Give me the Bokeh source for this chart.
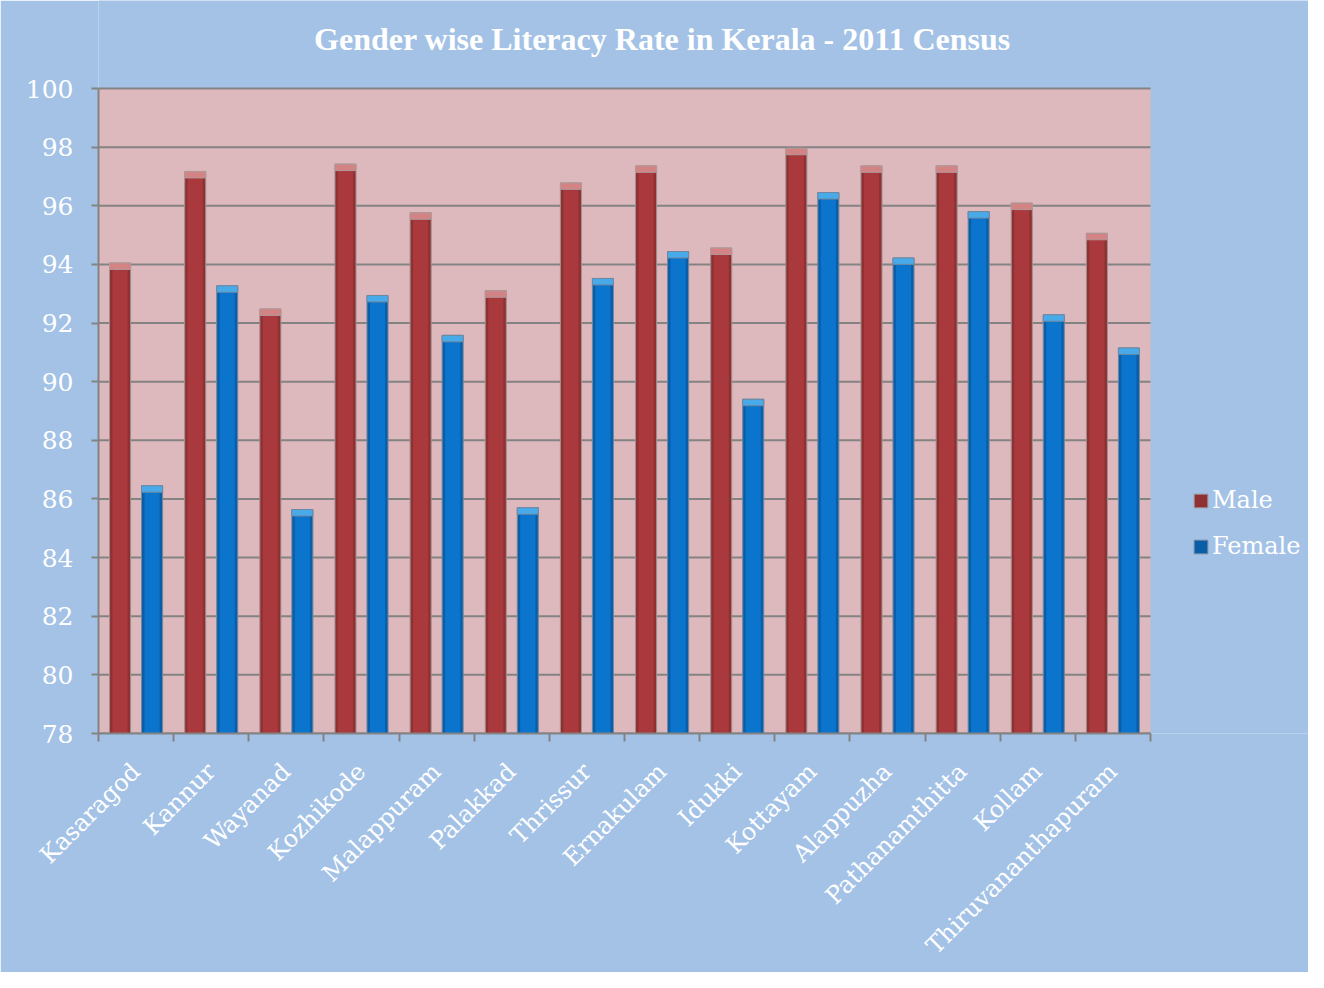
import numpy as np
from math import pi
from bokeh.plotting import figure
from bokeh.models import (ColumnDataSource, Range1d, FixedTicker, Legend, LegendItem,
                          BoxAnnotation, Label)
from bokeh.transform import dodge
from bokeh.embed import file_html
from bokeh.resources import INLINE

districts = ["Kasaragod", "Kannur", "Wayanad", "Kozhikode", "Malappuram", "Palakkad",
             "Thrissur", "Ernakulam", "Idukki", "Kottayam", "Alappuzha",
             "Pathanamthitta", "Kollam", "Thiruvananthapuram"]
male = [94.05, 97.17, 92.48, 97.42, 95.76, 93.10, 96.78, 97.36, 94.56, 97.96, 97.36, 97.36, 96.09, 95.06]
female = [86.45, 93.27, 85.64, 92.94, 91.58, 85.70, 93.52, 94.44, 89.40, 96.45, 94.22, 95.80, 92.28, 91.15]
y_ticks = list(range(78, 101, 2))
Y_MIN, Y_MAX = 78, 100
TITLE = "Gender wise Literacy Rate in Kerala - 2011 Census"

SERIF = "DejaVu Serif"
BG = "#a3c2e6"
PLOT_BG = "#ddb8bc"
GRID = "#838383"

n = len(districts)
centers = [i + 0.5 for i in range(n)]
cap = 0.22
src = ColumnDataSource(dict(x=centers, male=male, female=female, name=districts,
                            male_cap=[v - cap for v in male],
                            female_cap=[v - cap for v in female]))

# layout (pixels): the category plot area is 1052 x 645 px with its top-left at (98, 88);
# the frame is extended to the right and top edges so the legend and title fit inside it.
W, H = 1308, 972
LEFT, TOP, BOTTOM = 98, 88, 239
cat_w, cat_h = 1052, 645
px_x = cat_w / n
px_y = cat_h / (Y_MAX - Y_MIN)
x_end = (W - LEFT) / px_x
y_end = Y_MIN + (H - BOTTOM) / px_y

p = figure(width=W, height=H, x_range=Range1d(0, x_end), y_range=Range1d(Y_MIN, y_end),
           output_backend="svg", toolbar_location=None,
           min_border_left=LEFT, min_border_right=0, min_border_top=0, min_border_bottom=BOTTOM)

p.background_fill_color = BG
p.border_fill_color = BG
p.outline_line_color = None
p.add_layout(BoxAnnotation(left=0, right=n, bottom=Y_MIN, top=Y_MAX, fill_color=PLOT_BG,
                           fill_alpha=1, line_color=None, level="underlay"))

# title centred at pixel (662, 38) of the picture
p.add_layout(Label(x=(662 - LEFT) / px_x, y=y_end - 38 / px_y, text=TITLE,
                   text_align="center", text_baseline="middle", text_color="white",
                   text_font="Liberation Serif", text_font_style="bold",
                   text_font_size="32px"))

# horizontal grid lines across the category area only
p.segment(x0=[0] * len(y_ticks), x1=[n] * len(y_ticks), y0=y_ticks, y1=y_ticks,
          line_color=GRID, line_width=2)

w = 0.28
off = 0.213
xm = dodge("x", -off, range=p.x_range)
xf = dodge("x", off, range=p.x_range)
r_m = p.vbar(x=xm, top="male", bottom=Y_MIN, width=w, source=src,
             fill_color="#8f3033", line_color="#a09090", line_width=1)
r_f = p.vbar(x=xf, top="female", bottom=Y_MIN, width=w, source=src,
             fill_color="#0a5ea8", line_color="#7088a0", line_width=1)
# lighter centre for a cylinder look
p.vbar(x=xm, top="male_cap", bottom=Y_MIN, width=w * 0.72, source=src,
       fill_color="#a9393c", line_color=None)
p.vbar(x=xf, top="female_cap", bottom=Y_MIN, width=w * 0.72, source=src,
       fill_color="#0b74cc", line_color=None)
# bevelled caps
p.vbar(x=xm, top="male", bottom="male_cap", width=w, source=src,
       fill_color="#d48385", line_color="#b09a9a", line_width=1)
p.vbar(x=xf, top="female", bottom="female_cap", width=w, source=src,
       fill_color="#49aaea", line_color="#7088a0", line_width=1)

# y axis
p.yaxis.ticker = FixedTicker(ticks=y_ticks)
p.yaxis.bounds = (Y_MIN, Y_MAX)
p.yaxis.axis_line_color = GRID
p.yaxis.axis_line_width = 2
p.yaxis.major_tick_line_color = GRID
p.yaxis.major_tick_line_width = 2
p.yaxis.major_tick_out = 7
p.yaxis.major_tick_in = 0
p.yaxis.minor_tick_line_color = None
p.yaxis.major_label_text_color = "white"
p.yaxis.major_label_text_font = SERIF
p.yaxis.major_label_text_font_size = "25px"
p.yaxis.major_label_standoff = 18

p.ygrid.grid_line_color = None
p.xgrid.grid_line_color = None

# x axis: labels at centres, tick marks at category boundaries
p.xaxis.ticker = FixedTicker(ticks=centers, minor_ticks=list(range(n + 1)))
p.xaxis.bounds = (0, n)
p.xaxis.major_label_overrides = {c: d for c, d in zip(centers, districts)}
p.xaxis.major_label_orientation = pi / 4
p.xaxis.major_tick_line_color = None
p.xaxis.minor_tick_line_color = GRID
p.xaxis.minor_tick_line_width = 2
p.xaxis.minor_tick_out = 8
p.xaxis.minor_tick_in = 0
p.xaxis.axis_line_color = GRID
p.xaxis.axis_line_width = 2
p.xaxis.major_label_text_color = "white"
p.xaxis.major_label_text_font = SERIF
p.xaxis.major_label_text_font_size = "24px"
p.xaxis.major_label_standoff = 26

legend = Legend(items=[LegendItem(label="Male", renderers=[r_m]),
                       LegendItem(label="Female", renderers=[r_f])],
                location=(1094, 173), orientation="vertical")
legend.background_fill_alpha = 0
legend.border_line_color = None
legend.label_text_color = "white"
legend.label_text_font = SERIF
legend.label_text_font_size = "24px"
legend.glyph_width = 17
legend.glyph_height = 17
legend.label_standoff = 3
legend.spacing = 18
legend.padding = 0
legend.margin = 0
p.add_layout(legend)

open("out.html", "w").write(file_html(p, INLINE))
